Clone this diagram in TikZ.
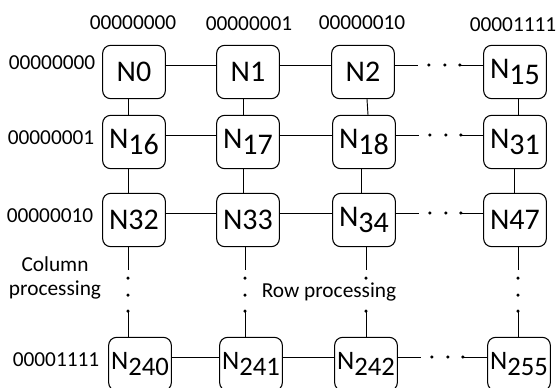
\documentclass[tikz,border=0pt]{standalone}
\usepackage{fontspec}
\setmainfont{Carlito}
\newcommand\lowdig[1]{\raisebox{-4.5pt}{#1}}
\begin{document}
\begin{tikzpicture}[x=0.75pt,y=-0.75pt,
	pe/.style={draw,line width=0.8pt,rounded corners=6pt,minimum width=47pt,minimum height=40pt,inner sep=0pt,font=\fontsize{22.5}{22.5}\selectfont},
	pesm/.style={pe,font=\fontsize{20}{20}\selectfont},
	lbl/.style={inner sep=0pt,font=\fontsize{16}{16}\selectfont},
	pip/.style={circle,fill,inner sep=0pt,minimum size=2.6pt},
	link/.style={line width=0.7pt}]
	\useasboundingbox (0,0) rectangle (557,388);
	% processing elements
	\node[pe] (n0) at (134,72) {N0};
	\node[pe] (n1) at (248,72) {N1};
	\node[pe] (n2) at (363,72) {N2};
	\node[pe] (n15) at (515,72) {N\lowdig{15}};
	\node[pe] (n16) at (134,142) {N\lowdig{16}};
	\node[pe] (n17) at (248,142) {N\lowdig{17}};
	\node[pe] (n18) at (364,142) {N\lowdig{18}};
	\node[pe] (n31) at (515,142) {N\lowdig{31}};
	\node[pe] (n32) at (134,220) {N32};
	\node[pe] (n33) at (248,220) {N33};
	\node[pe] (n34) at (364,220) {N\lowdig{34}};
	\node[pe] (n47) at (515,220) {N47};
	\node[pesm] (n240) at (140,364) {N\lowdig{240}};
	\node[pesm] (n241) at (251,364) {N\lowdig{241}};
	\node[pesm] (n242) at (366,364) {N\lowdig{242}};
	\node[pesm] (n255) at (519,364) {N\lowdig{255}};
	% column and row addresses
	\node[lbl] (h0) at (133,23) {00000000};
	\node[lbl] (h1) at (249,24) {00000001};
	\node[lbl] (h2) at (362,23) {00000010};
	\node[lbl] (h3) at (513,25) {00001111};
	\node[lbl] (r0) at (52,63) {00000000};
	\node[lbl] (r1) at (51,138) {00000001};
	\node[lbl] (r2) at (50,216) {00000010};
	\node[lbl] (r3) at (56,360) {00001111};
	% row links
	\foreach \a/\b in {n0/n1,n1/n2,n16/n17,n17/n18,n32/n33,n33/n34,n240/n241,n241/n242}
		\draw[link] ([yshift=5.25pt]\a.east) -- ([yshift=5.25pt]\b.west);
	% column links
	\foreach \a/\b/\s in {n0/n16/-4.5pt,n16/n32/-4.5pt,n1/n17/-3.75pt,n17/n33/-3.75pt,n2/n18/3pt,n18/n34/-2.25pt,n15/n31/2.25pt,n31/n47/-0.75pt}
		\draw[link] ([xshift=\s]\a.south) -- ([xshift=\s]\b.north);
	% elided rows
	\foreach \a/\b in {n2/n15,n18/n31,n34/n47,n242/n255} {
		\path ([yshift=5.25pt]\a.east) ++(34,0) node[pip] (\a-h1) {} ++(16,0) node[pip] (\a-h2) {} ++(15,0) node[pip] (\a-h3) {};
		\draw[link] ([yshift=5.25pt]\a.east) -- ++(23,0);
		\draw[link] (\a-h3.center) -- ([yshift=5.25pt]\b.west);
	}
	% elided columns
	\foreach \a/\b/\s in {n32/n240/-4.5pt,n33/n241/-2.25pt,n34/n242/1.5pt,n47/n255/2.25pt} {
		\path ([xshift=\s]\a.south) ++(0,31) node[pip] (\a-v1) {} ++(0,17) node[pip] (\a-v2) {} ++(0,16) node[pip] (\a-v3) {};
		\draw[link] ([xshift=\s]\a.south) -- ++(0,23);
		\draw[link] (\a-v3.center) -- (\a-v3 |- \b.north);
	}
	\node[lbl,align=center,font=\fontsize{16}{18}\selectfont] (colp) at (55,278) {Column\\processing};
	\node[lbl,fill=white,inner sep=1pt] (rowp) at (329,292) {Row processing};
\end{tikzpicture}
\end{document}
